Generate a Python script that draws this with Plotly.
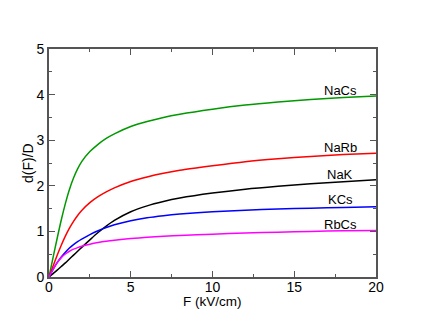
import plotly.graph_objects as go

# field values (kV/cm)
F = [0, 0.25, 0.5, 0.75, 1, 1.25, 1.5, 1.75, 2, 2.5, 3, 3.5, 4, 5, 6, 7, 8, 10, 12, 14, 16, 18, 20]

nacs = [0, 0.43, 0.85, 1.25, 1.61, 1.92, 2.17, 2.37, 2.53, 2.75, 2.91, 3.04, 3.14, 3.3, 3.41, 3.5, 3.57, 3.68, 3.77, 3.836, 3.89, 3.934, 3.97]
narb = [0, 0.24, 0.475, 0.695, 0.895, 1.07, 1.22, 1.35, 1.46, 1.63, 1.76, 1.865, 1.955, 2.095, 2.195, 2.275, 2.34, 2.44, 2.53, 2.594, 2.644, 2.684, 2.714]
nak = [0, 0.075, 0.15, 0.23, 0.31, 0.395, 0.48, 0.565, 0.65, 0.815, 0.975, 1.115, 1.24, 1.43, 1.56, 1.655, 1.73, 1.84, 1.925, 1.99, 2.045, 2.09, 2.13]
kcs = [0, 0.165, 0.315, 0.44, 0.545, 0.635, 0.71, 0.775, 0.83, 0.93, 1.015, 1.085, 1.145, 1.235, 1.3, 1.345, 1.38, 1.43, 1.464, 1.49, 1.51, 1.526, 1.54]
rbcs = [0, 0.17, 0.315, 0.425, 0.505, 0.565, 0.61, 0.645, 0.675, 0.72, 0.755, 0.783, 0.805, 0.842, 0.87, 0.892, 0.91, 0.94, 0.964, 0.984, 1.0, 1.012, 1.022]

names = ["NaCs", "NaRb", "NaK", "KCs", "RbCs"]
colors = ["#009900", "#ff0000", "#000000", "#0000ff", "#ff00ff"]
label_y = [4.1, 2.83, 2.24, 1.69, 1.16]
label_x = 17.8

fig = go.Figure()
for name, ys, col in zip(names, [nacs, narb, nak, kcs, rbcs], colors):
    fig.add_trace(go.Scatter(x=F, y=ys, mode="lines", name=name,
                             line=dict(color=col, width=1.5, shape="spline", smoothing=0.8)))

for name, ly in zip(names, label_y):
    fig.add_annotation(x=label_x, y=ly, text=name, showarrow=False,
                       font=dict(size=13, color="black"), xanchor="center", yanchor="middle")

# axis titles placed by hand
fig.add_annotation(x=0.5, y=0, xref="paper", yref="paper", yshift=-24,
                   text="F (kV/cm)", showarrow=False, xanchor="center", yanchor="middle",
                   font=dict(size=13.5, color="black"))
fig.add_annotation(x=0, y=0.5, xref="paper", yref="paper", xshift=-21,
                   text="d(F)/D", textangle=-90, showarrow=False, xanchor="center", yanchor="middle",
                   font=dict(size=14, color="black"))

axis_style = dict(
    showline=True, linecolor="#555555", linewidth=2, mirror="ticks",
    ticks="inside", ticklen=6, tickwidth=1, tickcolor="#555555",
    showgrid=False, zeroline=False, automargin=False,
    tickfont=dict(size=14, color="black"),
)

fig.update_xaxes(range=[0, 20], dtick=5, tick0=0, ticklabelstandoff=-4,
                 minor=dict(ticks="inside", ticklen=3, dtick=2.5, tickcolor="#555555"),
                 **axis_style)
fig.update_yaxes(range=[0, 5], dtick=1, tick0=0,
                 minor=dict(ticks="inside", ticklen=3, dtick=0.5, tickcolor="#555555"),
                 **axis_style)

# page body adds 8px, so the figure is a bit smaller than the window
fig.update_layout(
    width=415, height=319,
    margin=dict(l=41, r=47, t=41, b=50),
    paper_bgcolor="white", plot_bgcolor="white",
    showlegend=False,
    font=dict(family="Liberation Sans, Arial, sans-serif"),
)

fig.write_html("out.html")
